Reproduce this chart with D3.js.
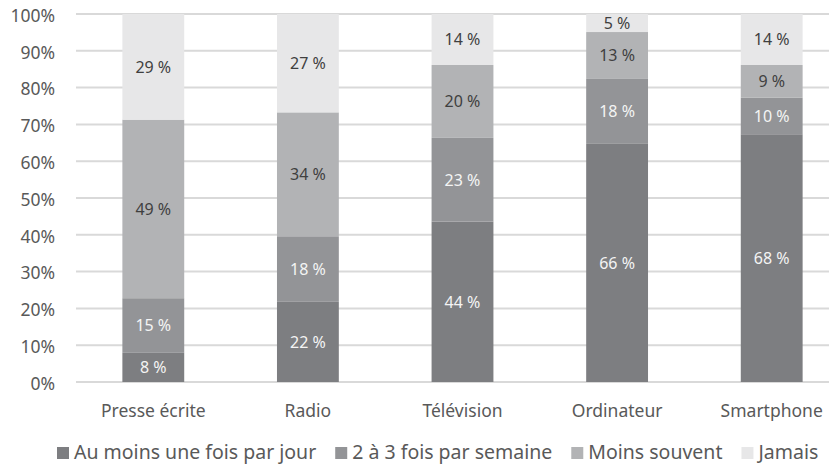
<!DOCTYPE html>
<html>
<head>
<meta charset="utf-8">
<script src="https://cdn.jsdelivr.net/npm/d3@7"></script>
<style>
  body { margin: 0; background: #fff; }
  text { font-family: "Noto Sans", sans-serif; }
</style>
</head>
<body>
<div id="canvas"></div>
<script>
// data (percent labels as printed)
var categories = ["Presse écrite", "Radio", "Télévision", "Ordinateur", "Smartphone"];
var seriesNames = ["Au moins une fois par jour", "2 à 3 fois par semaine", "Moins souvent", "Jamais"];
var parJour = [8, 22, 44, 66, 68];
var parSemaine = [15, 18, 23, 18, 10];
var moinsSouvent = [49, 34, 20, 13, 9];
var jamais = [29, 27, 14, 5, 14];
var yTicks = [0, 0.1, 0.2, 0.3, 0.4, 0.5, 0.6, 0.7, 0.8, 0.9, 1];

var colors = ["#7d7e81", "#939497", "#b2b3b5", "#e7e7e8"];
var labelColors = ["#f4f4f4", "#f4f4f4", "#3f3f3f", "#3f3f3f"];

var width = 829, height = 469;
var margin = {left: 76, right: 0, top: 14, bottom: 87};

var svg = d3.select("#canvas")
  .append("svg")
  .attr("width", width)
  .attr("height", height);

var rows = categories.map(function (c, i) {
  return {cat: c, s0: parJour[i], s1: parSemaine[i], s2: moinsSouvent[i], s3: jamais[i]};
});

var stack = d3.stack()
  .keys(["s0", "s1", "s2", "s3"])
  .offset(d3.stackOffsetExpand);
var layers = stack(rows);

var x = d3.scaleBand()
  .domain(categories)
  .range([margin.left, 849])
  .paddingInner(0.6)
  .paddingOuter(0.3);

var y = d3.scaleLinear()
  .domain([0, 1])
  .range([height - margin.bottom, margin.top]);

// gridlines
svg.append("g")
  .selectAll("line")
  .data(yTicks)
  .enter()
  .append("line")
  .attr("x1", margin.left)
  .attr("x2", width)
  .attr("y1", d => y(d))
  .attr("y2", d => y(d))
  .attr("stroke", "#d9d9d9")
  .attr("stroke-width", 2);

// y labels
var yAxisCall = d3.axisLeft(y)
  .tickValues(yTicks)
  .tickSize(0)
  .tickPadding(21)
  .tickFormat(d3.format(".0%"));

var yg = svg.append("g")
  .attr("class", "y-axis")
  .attr("transform", "translate(" + margin.left + ",0)")
  .call(yAxisCall);
yg.select(".domain").remove();
yg.selectAll("text")
  .attr("fill", "#595959")
  .attr("dy", "0.42em")
  .style("font-size", "17.5px")
  .style("font-family", "'Noto Sans', sans-serif");

// x labels
var xAxisCall = d3.axisBottom(x).tickSize(0).tickPadding(23);
var xg = svg.append("g")
  .attr("class", "x-axis")
  .attr("transform", "translate(0," + y(0) + ")")
  .call(xAxisCall);
xg.select(".domain").remove();
xg.selectAll("text")
  .attr("fill", "#595959")
  .style("font-size", "17.5px")
  .style("font-family", "'Noto Sans', sans-serif");

// bars
var layer = svg.selectAll("g.layer")
  .data(layers)
  .enter()
  .append("g")
  .attr("class", "layer");

layer.selectAll("rect")
  .data(d => d)
  .enter()
  .append("rect")
  .attr("x", d => x(d.data.cat))
  .attr("width", x.bandwidth())
  .attr("y", d => y(d[1]))
  .attr("height", d => y(d[0]) - y(d[1]))
  .attr("fill", function (d) {
    return colors[d3.select(this.parentNode).datum().index];
  });

// data labels
layer.each(function (L) {
  d3.select(this).selectAll("text")
    .data(L)
    .enter()
    .append("text")
    .attr("x", d => x(d.data.cat) + x.bandwidth() / 2)
    .attr("y", d => (y(d[0]) + y(d[1])) / 2)
    .attr("dy", "0.36em")
    .attr("text-anchor", "middle")
    .attr("fill", labelColors[L.index])
    .style("font-size", "16px")
    .text(d => d.data[L.key] + " %");
});

// legend
var legend = svg.append("g").attr("class", "legend");
var lx = 57, ly = 459;
seriesNames.forEach(function (name, i) {
  var item = legend.append("g");
  item.append("rect")
    .attr("x", lx)
    .attr("y", ly - 12)
    .attr("width", 12)
    .attr("height", 12)
    .attr("fill", colors[i]);
  var t = item.append("text")
    .attr("x", lx + 17)
    .attr("y", ly)
    .attr("fill", "#595959")
    .style("font-size", "19.5px")
    .text(name);
  lx += 17 + t.node().getComputedTextLength() + 19;
});
</script>
</body>
</html>
